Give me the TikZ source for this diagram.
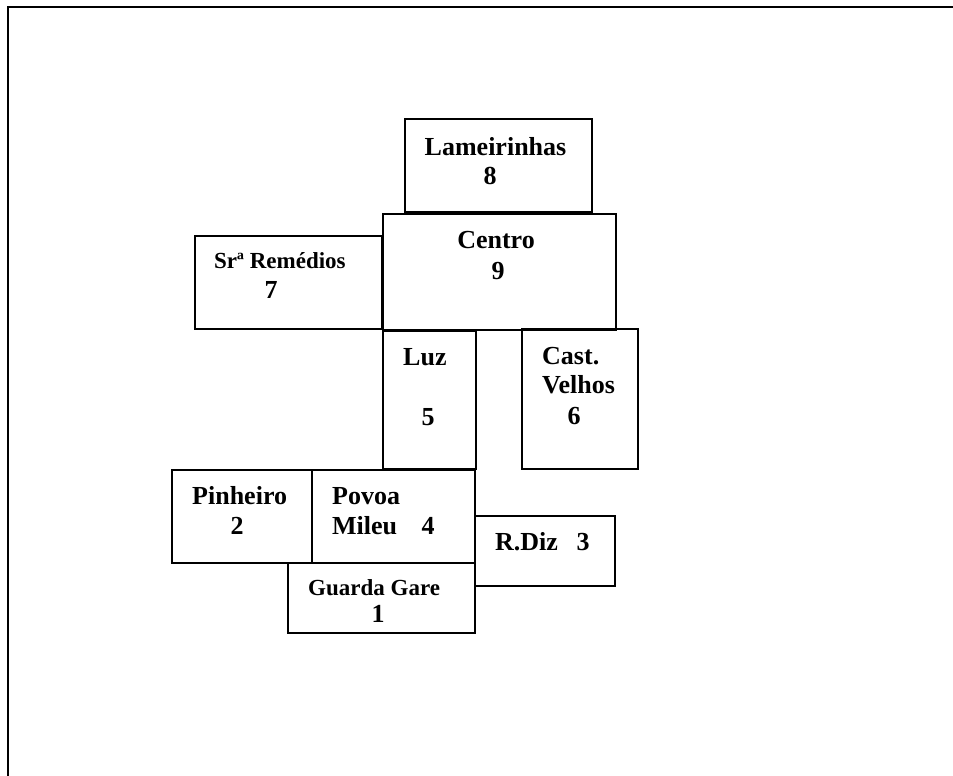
\documentclass[tikz,border=0pt]{standalone}
\usepackage{fontspec}
\setmainfont{Liberation Serif}
\begin{document}
\begin{tikzpicture}[x=1pt,y=-1pt,
  box/.style={draw, line width=1.6pt, inner sep=0pt, outer sep=0pt, anchor=north west},
  big/.style={font=\fontsize{26}{29}\selectfont\bfseries, inner sep=0pt},
  small/.style={font=\fontsize{23}{26}\selectfont\bfseries, inner sep=0pt},
  wl/.style={anchor=base west},
  nm/.style={anchor=base}]
\useasboundingbox (0,0) rectangle (953,776);
\draw[line width=2.4pt] (8,776) -- (8,7) -- (953,7);
% boxes
\node[box, minimum width=187pt, minimum height=93pt]  (lam) at (405,119) {};
\node[box, minimum width=233pt, minimum height=116pt] (cen) at (383,214) {};
\node[box, minimum width=187pt, minimum height=93pt]  (rem) at (195,236) {};
\node[box, minimum width=93pt,  minimum height=138pt] (luz) at (383,331) {};
\node[box, minimum width=116pt, minimum height=140pt] (cas) at (522,329) {};
\node[box, minimum width=140pt, minimum height=93pt]  (pin) at (172,470) {};
\node[box, minimum width=163pt, minimum height=93pt]  (pov) at (312,470) {};
\node[box, minimum width=140pt, minimum height=70pt]  (diz) at (475,516) {};
\node[box, minimum width=187pt, minimum height=70pt]  (gua) at (288,563) {};
% labels
\node[big, nm] (lamt) at (495.5,155) {Lameirinhas};
\node[big, nm] (lamn) at (490,184) {8};
\node[big, nm] (cent) at (496,248) {Centro};
\node[big, nm] (cenn) at (498,279) {9};
\node[small, wl] (remt) at (214,268) {Srª Remédios};
\node[big, nm] (remn) at (271,298) {7};
\node[big, wl] (luzt) at (403,365) {Luz};
\node[big, nm] (luzn) at (428,425) {5};
\node[big, wl] (cast) at (542,364) {Cast.};
\node[big, wl] (casv) at (542,393) {Velhos};
\node[big, nm] (casn) at (574,424) {6};
\node[big, wl] (pint) at (192,504) {Pinheiro};
\node[big, nm] (pinn) at (237,534) {2};
\node[big, wl] (povt) at (332,504) {Povoa};
\node[big, wl] (povm) at (332,534) {Mileu};
\node[big, nm] (povn) at (428,534) {4};
\node[big, wl] (dizt) at (495,550) {R.Diz};
\node[big, nm] (dizn) at (583,550) {3};
\node[small, wl] (guat) at (308,595) {Guarda Gare};
\node[big, nm] (guan) at (378,622) {1};
\end{tikzpicture}
\end{document}
